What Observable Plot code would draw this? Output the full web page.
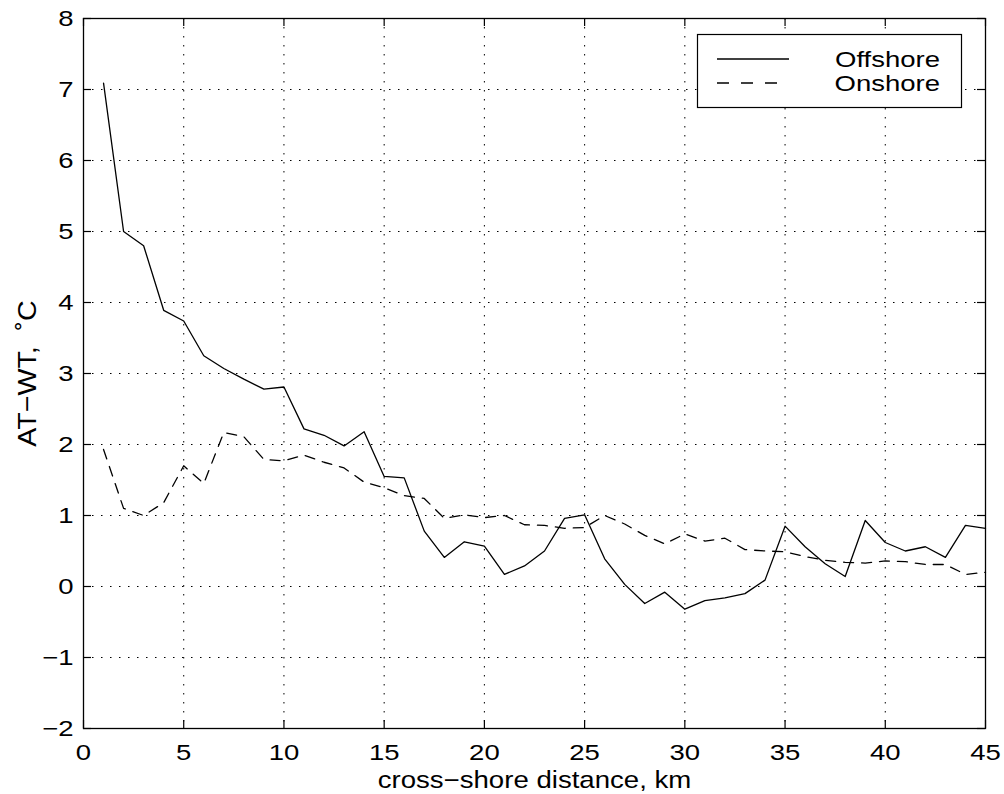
<!DOCTYPE html>
<html><head><meta charset="utf-8">
<script src="https://cdn.jsdelivr.net/npm/d3@7"></script>
<script src="https://cdn.jsdelivr.net/npm/@observablehq/plot@0.6"></script>
<style>
html,body{margin:0;padding:0;background:#fff;}
#wrap{position:relative;width:1004px;height:794px;font-family:"Liberation Sans",Arial,sans-serif;}
#wrap svg.legend{position:absolute;left:0;top:0;}
</style></head><body><div id="wrap"></div>
<script>
const distanceKm = [1,2,3,4,5,6,7,8,9,10,11,12,13,14,15,16,17,18,19,20,21,22,23,24,25,26,27,28,29,30,31,32,33,34,35,36,37,38,39,40,41,42,43,44,45];
const offshore = [7.09,5.00,4.80,3.89,3.74,3.25,3.07,2.92,2.78,2.81,
                  2.22,2.13,1.98,2.18,1.55,1.53,0.78,0.41,0.63,0.57,
                  0.17,0.29,0.50,0.96,1.01,0.39,0.03,-0.24,-0.08,-0.32,
                  -0.20,-0.16,-0.10,0.09,0.85,0.56,0.32,0.14,0.93,0.62,
                  0.50,0.56,0.41,0.86,0.82];
const onshore = [1.93,1.10,1.00,1.18,1.70,1.45,2.17,2.11,1.79,1.77,
                 1.85,1.75,1.67,1.47,1.39,1.28,1.24,0.96,1.01,0.97,
                 1.00,0.87,0.86,0.82,0.83,1.00,0.88,0.72,0.60,0.74,
                 0.64,0.68,0.52,0.50,0.49,0.42,0.37,0.34,0.33,0.36,
                 0.35,0.31,0.31,0.17,0.20];
const xTicks = [0,5,10,15,20,25,30,35,40,45];
const yTicks = [-2,-1,0,1,2,3,4,5,6,7,8];
const seriesNames = ["Offshore","Onshore"];
const xLabel = "cross\u2212shore distance, km";
const yLabel = "AT\u2212WT,  \u02DAC";

const W = 1004, H = 794, mL = 83, mR = 19, mT = 18, mB = 66;
const plotW = W - mL - mR, plotH = H - mT - mB;
const dotted = "1.5,7.5";
const dashed = "10,8";
const fmt = d => d < 0 ? "\u2212" + (-d) : String(d);

const rows = distanceKm.map((km, i) => ({km, off: offshore[i], on: onshore[i]}));

// font sizes double as keys for the glyph-widening pass below
const FS_TICK = 22, FS_XL = 24, FS_YL = 26;

const chart = Plot.plot({
  width: W, height: H,
  marginLeft: mL, marginRight: mR, marginTop: mT, marginBottom: mB,
  style: {fontFamily: "Liberation Sans, Arial, sans-serif", background: "#fff", color: "#000", overflow: "visible"},
  x: {domain: [0, 45], axis: null},
  y: {domain: [-2, 8], axis: null},
  marks: [
    Plot.gridX(xTicks, {stroke: "#000", strokeOpacity: 1, strokeWidth: 1, strokeDasharray: dotted}),
    Plot.gridY(yTicks, {stroke: "#000", strokeOpacity: 1, strokeWidth: 1, strokeDasharray: dotted}),
    Plot.tickX(xTicks, {x: d => d, insetTop: plotH - 8, stroke: "#000", strokeWidth: 1.2}),
    Plot.tickX(xTicks, {x: d => d, insetBottom: plotH - 8, stroke: "#000", strokeWidth: 1.2}),
    Plot.tickY(yTicks, {y: d => d, insetRight: plotW - 8, stroke: "#000", strokeWidth: 1.2}),
    Plot.tickY(yTicks, {y: d => d, insetLeft: plotW - 8, stroke: "#000", strokeWidth: 1.2}),
    Plot.line(rows, {x: "km", y: "on", stroke: "#000", strokeWidth: 1.3, strokeDasharray: dashed}),
    Plot.line(rows, {x: "km", y: "off", stroke: "#000", strokeWidth: 1.3}),
    Plot.frame({stroke: "#000", strokeWidth: 1.3}),
    Plot.text(xTicks, {x: d => d, text: fmt, frameAnchor: "bottom", textAnchor: "middle", lineAnchor: "bottom", dy: 31, fontSize: FS_TICK, fill: "#000"}),
    Plot.text(yTicks, {y: d => d, text: fmt, frameAnchor: "left", textAnchor: "end", dx: -10, fontSize: FS_TICK, fill: "#000"}),
    Plot.text([xLabel], {text: d => d, frameAnchor: "bottom", textAnchor: "middle", lineAnchor: "bottom", dy: 59, fontSize: FS_XL, fill: "#000"}),
    Plot.text([yLabel], {text: d => d, frameAnchor: "left", textAnchor: "middle", rotate: -90, lineAnchor: "bottom", dx: -48, fontSize: FS_YL, fill: "#000"})
  ]
});

// widen glyphs along the text direction, as in the reference's typeface
const stretch = {[FS_TICK]: 1.25, [FS_XL]: 1.15, [FS_YL]: 1.1};
chart.querySelectorAll('g[aria-label="text"]').forEach(g => {
  const s = stretch[g.getAttribute("font-size")];
  if (!s) return;
  g.querySelectorAll("text").forEach(t => {
    let tr = t.getAttribute("transform") || "";
    const x = t.getAttribute("x");
    if (x && !isNaN(+x)) { tr += ` translate(${x},0)`; t.removeAttribute("x"); }
    t.setAttribute("transform", tr + ` scale(${s},1)`);
  });
});

const wrap = document.getElementById("wrap");
wrap.appendChild(chart);

// legend overlay
const lg = d3.select(wrap).append("svg").attr("class", "legend").attr("width", W).attr("height", H);
lg.append("rect").attr("x", 697.5).attr("y", 34.5).attr("width", 264).attr("height", 73)
  .attr("fill", "#fff").attr("stroke", "#000").attr("stroke-width", 1.2);
const styles = [null, "12,12"];
seriesNames.forEach((name, i) => {
  const cy = 59 + i * 24;
  lg.append("line").attr("x1", 717).attr("x2", i ? 778 : 789).attr("y1", cy).attr("y2", cy)
    .attr("stroke", "#000").attr("stroke-width", 1.3).attr("stroke-dasharray", styles[i]);
  lg.append("text").attr("transform", `translate(940,${cy + 8}) scale(1.25,1)`)
    .attr("text-anchor", "end").attr("font-size", 22)
    .attr("font-family", "Liberation Sans, Arial, sans-serif").attr("fill", "#000").text(name);
});
</script></body></html>
